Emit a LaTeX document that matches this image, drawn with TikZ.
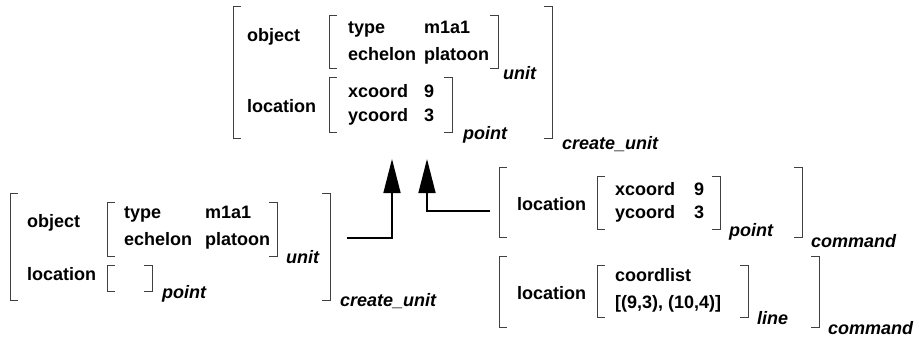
\documentclass[tikz,border=0pt]{standalone}
\usepackage{fontspec}
\setmainfont{Liberation Sans}
\usetikzlibrary{arrows.meta}
\tikzset{
  lbl/.style={anchor=west, inner sep=0pt, font=\fontsize{18}{21}\selectfont\bfseries, text height=13pt, text depth=3.8pt},
  typ/.style={lbl, font=\fontsize{18}{21}\selectfont\bfseries\itshape},
  brk/.style={line width=1pt, draw=black!75},
  conn/.style={line width=1.5pt, -{Triangle[length=34pt,width=17pt]}},
}
\newcommand{\avmL}[3]{\draw[brk] (#1+8,#2) -- (#1,#2) -- (#1,#3) -- (#1+8,#3);}
\newcommand{\avmR}[3]{\draw[brk] (#1-8,#2) -- (#1,#2) -- (#1,#3) -- (#1-8,#3);}
\begin{document}
\begin{tikzpicture}[x=1pt,y=-1pt]
\useasboundingbox (0,0) rectangle (919,338);

% ---------- top structure ----------
\avmL{233}{6}{138} \avmR{552}{6}{138}
\node[typ] (tcu) at (562,145) {create\_unit};
\node[lbl] (tobj) at (247,37) {object};
\avmL{329}{15}{68} \avmR{498}{15}{68}
\node[lbl] (ttype) at (348,29) {type};
\node[lbl] (tm1a1) at (424,29) {m1a1};
\node[lbl] (tech) at (348,56) {echelon};
\node[lbl] (tplat) at (424,56) {platoon};
\node[typ] (tunit) at (503,75) {unit};
\node[lbl] (tloc) at (247,108) {location};
\avmL{329}{77}{132} \avmR{452}{77}{132}
\node[lbl] (txc) at (348,93) {xcoord};
\node[lbl] (tx9) at (424,93) {9};
\node[lbl] (tyc) at (348,117) {ycoord};
\node[lbl] (ty3) at (424,117) {3};
\node[typ] (tpoint) at (463,135) {point};

% ---------- bottom-left structure ----------
\avmL{10}{193}{300} \avmR{330}{193}{300}
\node[typ] (lcu) at (340,302) {create\_unit};
\node[lbl] (lobj) at (27,223) {object};
\avmL{107}{202}{256} \avmR{277}{202}{256}
\node[lbl] (ltype) at (124,214) {type};
\node[lbl] (lm1a1) at (205,214) {m1a1};
\node[lbl] (lech) at (124,241) {echelon};
\node[lbl] (lplat) at (205,241) {platoon};
\node[typ] (lunit) at (286,259) {unit};
\node[lbl] (lloc) at (27,276) {location};
\avmL{107}{265}{291} \avmR{152}{265}{291}
\node[typ] (lpoint) at (162,294) {point};

% ---------- right-top structure ----------
\avmL{499}{167}{237} \avmR{802}{167}{237}
\node[typ] (rcmd1) at (811,243) {command};
\node[lbl] (rloc1) at (517,206) {location};
\avmL{597}{176}{229} \avmR{720}{176}{229}
\node[lbl] (rxc) at (615,191) {xcoord};
\node[lbl] (rx9) at (694,191) {9};
\node[lbl] (ryc) at (615,214) {ycoord};
\node[lbl] (ry3) at (694,214) {3};
\node[typ] (rpoint) at (729,232) {point};

% ---------- right-bottom structure ----------
\avmL{499}{256}{327} \avmR{819}{256}{327}
\node[typ] (rcmd2) at (828,330) {command};
\node[lbl] (rloc2) at (517,295) {location};
\avmL{597}{265}{317} \avmR{748}{265}{317}
\node[lbl] (rcl) at (615,277) {coordlist};
\node[lbl] (rlist) at (615,304) {[(9,3), (10,4)]};
\node[typ] (rline) at (757,320) {line};

% ---------- connectors ----------
\coordinate (a1s) at (347,238);
\coordinate (a1e) at (392,159);
\coordinate (a2s) at (490,211);
\coordinate (a2e) at (427,159);
\draw[conn] (a1s) -| (a1e);
\draw[conn] (a2s) -| (a2e);
\end{tikzpicture}
\end{document}
